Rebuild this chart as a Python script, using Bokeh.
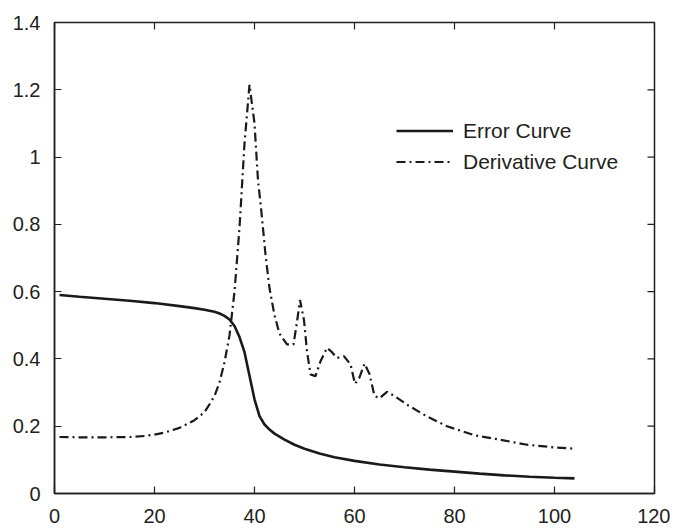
import math
from bokeh.plotting import figure
from bokeh.models import Range1d, LinearAxis, Legend, LegendItem, FixedTicker
from bokeh.embed import file_html
from bokeh.resources import INLINE

# Error curve
err_x = [1, 5, 10, 15, 20, 25, 28, 30, 32, 33, 34, 35, 36, 37, 38, 39, 40, 41, 42, 43, 44, 45,
         46, 48, 50, 53, 56, 60, 65, 70, 75, 80, 85, 90, 95, 100, 104]
err_y = [0.590, 0.585, 0.579, 0.573, 0.566, 0.557, 0.551, 0.546, 0.540, 0.535, 0.528, 0.517,
         0.498, 0.465, 0.420, 0.350, 0.280, 0.230, 0.205, 0.190, 0.178, 0.169, 0.160, 0.145,
         0.133, 0.119, 0.108, 0.097, 0.086, 0.078, 0.071, 0.065, 0.059, 0.054, 0.050, 0.047, 0.045]

# Derivative curve
der_x = [1, 5, 10, 15, 18, 20, 22, 25, 28, 30, 31, 32, 33, 34, 35, 36, 37, 38, 39, 40, 40.7,
         41.3, 42.2, 43, 44, 45, 46.5, 47.8, 48.5, 49.1, 49.9, 50.5, 51.2, 52.2, 53.2, 54.5,
         55.5, 56.5, 57.9, 59.2, 60.1, 61, 62, 63, 64, 65, 66.5, 68, 70.5, 74.5, 78.5, 84, 89,
         94.5, 100, 104]
der_y = [0.168, 0.167, 0.167, 0.168, 0.171, 0.175, 0.181, 0.195, 0.218, 0.242, 0.265, 0.290,
         0.330, 0.390, 0.470, 0.600, 0.790, 1.040, 1.215, 1.100, 0.930, 0.850, 0.710, 0.610,
         0.530, 0.475, 0.443, 0.443, 0.510, 0.575, 0.515, 0.423, 0.354, 0.349, 0.393, 0.433,
         0.420, 0.403, 0.408, 0.384, 0.326, 0.345, 0.386, 0.355, 0.290, 0.283, 0.302, 0.290,
         0.264, 0.229, 0.200, 0.173, 0.160, 0.145, 0.137, 0.133]

x_ticks = [0, 20, 40, 60, 80, 100, 120]
y_ticks = [0, 0.2, 0.4, 0.6, 0.8, 1.0, 1.2, 1.4]
y_tick_labels = {0: "0", 0.2: "0.2", 0.4: "0.4", 0.6: "0.6", 0.8: "0.8", 1.0: "1", 1.2: "1.2", 1.4: "1.4"}
legend_labels = ["Error Curve", "Derivative Curve"]
X_MAX, Y_MAX = 120, 1.4

FONT = "Liberation Sans"
TXT = "#231f20"

p = figure(width=670, height=529, output_backend="svg", toolbar_location=None,
           x_range=Range1d(0, X_MAX), y_range=Range1d(0, Y_MAX),
           x_axis_location=None, y_axis_location=None,
           min_border_left=54, min_border_right=16, min_border_top=22, min_border_bottom=36)
p.grid.visible = False
p.outline_line_color = TXT
p.outline_line_width = 1.5
p.background_fill_color = "white"
p.border_fill_color = "white"


def make_axis(ticks):
    a = LinearAxis(ticker=FixedTicker(ticks=ticks))
    a.axis_line_color = TXT
    a.axis_line_width = 1.5
    a.major_tick_line_color = TXT
    a.major_tick_line_width = 1.2
    a.major_tick_in = 7
    a.major_tick_out = 0
    a.minor_tick_line_color = None
    a.major_label_text_font = FONT
    a.major_label_text_font_size = "20px"
    a.major_label_text_color = TXT
    return a


bx = make_axis(x_ticks)
bx.major_label_standoff = 15
p.add_layout(bx, "below")
lx = make_axis(y_ticks)
lx.major_label_overrides = y_tick_labels
lx.major_label_standoff = 14
p.add_layout(lx, "left")

# inward ticks on the top and right edges (MATLAB box style)
p.ray(x=x_ticks, y=[Y_MAX] * len(x_ticks), length=7, length_units="screen",
      angle=-math.pi / 2, line_color=TXT, line_width=1.2)
p.ray(x=[X_MAX] * len(y_ticks), y=y_ticks, length=7, length_units="screen",
      angle=math.pi, line_color=TXT, line_width=1.2)

r1 = p.line(err_x, err_y, line_color="#1a1a1a", line_width=2.6)
r2 = p.line(der_x, der_y, line_color="#1a1a1a", line_width=2.2, line_dash="9 4 2 4")

legend = Legend(items=[LegendItem(label=legend_labels[0], renderers=[r1]),
                       LegendItem(label=legend_labels[1], renderers=[r2])],
                location=(342, 316), orientation="vertical")
legend.border_line_color = None
legend.background_fill_alpha = 0
legend.padding = 0
legend.margin = 0
legend.spacing = 0
legend.glyph_width = 57
legend.glyph_height = 31
legend.label_height = 31
legend.label_standoff = 10
legend.label_text_font = FONT
legend.label_text_font_size = "21px"
legend.label_text_color = TXT
p.add_layout(legend, "center")

open("out.html", "w").write(file_html(p, INLINE))
